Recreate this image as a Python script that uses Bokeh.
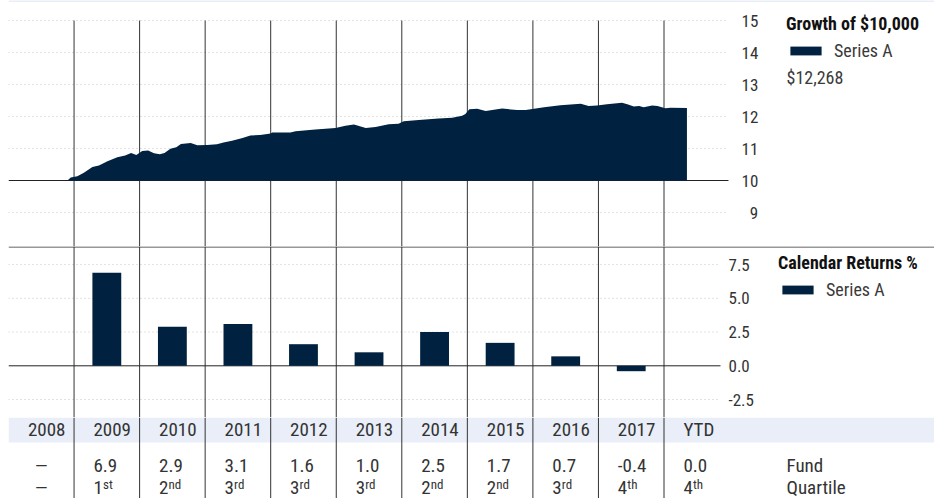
from bokeh.plotting import figure
from bokeh.layouts import column
from bokeh.models import (Range1d, LinearAxis, FixedTicker, Legend, LegendItem, Label,
                          Span, BoxAnnotation, NumeralTickFormatter)
from bokeh.core.properties import value
from bokeh.embed import file_html
from bokeh.resources import INLINE

# ---------------- data ----------------
years = ["2008", "2009", "2010", "2011", "2012", "2013", "2014", "2015", "2016", "2017", "YTD"]
fund_returns = [None, 6.9, 2.9, 3.1, 1.6, 1.0, 2.5, 1.7, 0.7, -0.4, 0.0]
quartiles = [None, 1, 2, 3, 3, 3, 2, 2, 3, 4, 4]

growth_dates = [2008.90, 2008.95, 2009.05, 2009.15, 2009.28, 2009.38, 2009.51, 2009.66, 2009.78,
                2009.87, 2009.95, 2010.04, 2010.13, 2010.22, 2010.31, 2010.38, 2010.47, 2010.56,
                2010.63, 2010.78, 2010.88, 2011.03, 2011.18, 2011.28, 2011.41, 2011.57, 2011.69,
                2011.84, 2012.00, 2012.02, 2012.30, 2012.38, 2012.68, 2012.99, 2013.14, 2013.27,
                2013.45, 2013.60, 2013.80, 2013.95, 2014.03, 2014.26, 2014.56, 2014.77, 2014.92,
                2014.97, 2015.03, 2015.15, 2015.28, 2015.53, 2015.76, 2015.89, 2016.17, 2016.42,
                2016.73, 2016.85, 2016.98, 2017.13, 2017.36, 2017.44, 2017.54, 2017.62, 2017.69,
                2017.82, 2017.90, 2018.02, 2018.10, 2018.35]
growth_values = [10.00, 10.09, 10.13, 10.24, 10.42, 10.47, 10.60, 10.73, 10.78,
                 10.86, 10.80, 10.92, 10.94, 10.85, 10.82, 10.86, 10.99, 11.04,
                 11.14, 11.17, 11.10, 11.11, 11.13, 11.19, 11.24, 11.33, 11.41,
                 11.42, 11.47, 11.50, 11.50, 11.54, 11.59, 11.64, 11.71, 11.75,
                 11.64, 11.67, 11.76, 11.77, 11.85, 11.89, 11.94, 11.96, 12.02,
                 12.08, 12.23, 12.24, 12.17, 12.25, 12.20, 12.20, 12.29, 12.35,
                 12.40, 12.33, 12.34, 12.38, 12.43, 12.38, 12.31, 12.33, 12.29,
                 12.34, 12.33, 12.26, 12.27, 12.268]

growth_ticks = [9, 10, 11, 12, 13, 14, 15]
return_ticks = [-2.5, 0.0, 2.5, 5.0, 7.5]
suffixes = {1: "st", 2: "nd", 3: "rd", 4: "th"}

# ---------------- layout / style ----------------
FONT = "Roboto Condensed"
NAVY = "#00213f"
TXT = "#333333"
W = 934
LEFT = 8
PXY = 65.55                      # pixels per year
X0 = 2008.0
X1 = X0 + (W - LEFT) / PXY
G_END = X0 + (728 - LEFT) / PXY
B_END = X0 + (720 - LEFT) / PXY

G_H, G_PX = 246, 32.0
G_TOP = 15 + 20 / G_PX
G_BOT = G_TOP - G_H / G_PX
B_H, B_PX = 171, 13.5
B_TOP = 119.3 / B_PX
B_BOT = B_TOP - B_H / B_PX
T_H = 81

boundaries = [X0 + i for i in range(1, len(years))]


def base_fig(h, yr):
    f = figure(width=W, height=h, x_range=Range1d(X0, X1), y_range=yr,
               x_axis_location=None, y_axis_location=None, toolbar_location=None,
               output_backend="svg", min_border_left=LEFT, min_border_right=0,
               min_border_top=0, min_border_bottom=0, outline_line_color=None,
               background_fill_color="white", border_fill_color="white")
    f.grid.visible = False
    return f


def right_axis(f, loc, ticks, standoff):
    ax = LinearAxis(fixed_location=loc, ticker=FixedTicker(ticks=ticks),
                    axis_line_color=None, major_tick_line_color=None,
                    minor_tick_line_color=None, major_tick_in=0, major_tick_out=0,
                    minor_tick_in=0, minor_tick_out=0,
                    major_label_standoff=standoff,
                    major_label_text_font=FONT, major_label_text_font_size="17px",
                    major_label_text_color=TXT)
    f.add_layout(ax, "right")
    return ax


def make_legend(f, renderer, title, loc):
    leg = Legend(items=[LegendItem(label="Series A", renderers=[renderer])], title=title,
                 location=loc, orientation="vertical", padding=0, margin=0, spacing=0,
                 border_line_color=None, background_fill_alpha=0,
                 glyph_width=39, glyph_height=11, label_standoff=9, title_standoff=6,
                 label_text_font=FONT, label_text_font_size="18px", label_text_color="#3a3a3a",
                 title_text_font=FONT, title_text_font_size="18px",
                 title_text_font_style="bold", title_text_color="#111111")
    f.add_layout(leg)


# ---------------- growth panel ----------------
g = base_fig(G_H, Range1d(G_BOT, G_TOP))
g.add_layout(Span(location=G_TOP - 0.5 / G_PX, dimension="width",
                  line_color="#e2e8f3", line_width=1.5))
dotted_g = [t for t in growth_ticks if t != growth_values[0]]
g.segment(x0=X0, x1=G_END, y0=dotted_g, y1=dotted_g, line_color="#c4c4c4",
          line_dash="1 3", line_width=1)
g.segment(x0=boundaries, x1=boundaries, y0=max(growth_ticks), y1=G_BOT,
          line_color="#333333", line_width=1)
g.segment(x0=X0, x1=G_END, y0=growth_values[0], y1=growth_values[0],
          line_color="#222222", line_width=1)
area = g.varea(x=growth_dates, y1=growth_values[0], y2=growth_values, fill_color=NAVY)
gax = right_axis(g, G_END, growth_ticks, 13)
gax.major_label_overrides = {9: "\u20079"}
make_legend(g, area, "Growth of $10,000", (778, 185))
g.add_layout(Label(x=778, y=169, x_units="screen", y_units="screen",
                   text=f"${growth_values[-1] * 1000:,.0f}", text_baseline="middle",
                   text_font=FONT, text_font_size="18px", text_color="#3a3a3a"))

# ---------------- returns panel ----------------
b = base_fig(B_H, Range1d(B_BOT, B_TOP))
b.add_layout(Span(location=B_TOP - 0.5 / B_PX, dimension="width",
                  line_color="#333333", line_width=1))
dotted_b = [t for t in return_ticks if t != 0]
b.segment(x0=X0, x1=B_END, y0=dotted_b, y1=dotted_b, line_color="#c4c4c4",
          line_dash="1 3", line_width=1)
b.segment(x0=boundaries, x1=boundaries, y0=B_BOT, y1=B_TOP,
          line_color="#333333", line_width=1)
b.segment(x0=X0, x1=B_END, y0=0, y1=0, line_color="#222222", line_width=1)
bar_x = [X0 + i + 0.5 for i, v in enumerate(fund_returns) if v is not None]
bar_top = [v for v in fund_returns if v is not None]
bars = b.vbar(x=bar_x, top=bar_top, bottom=0, width=0.44, fill_color=NAVY, line_color=None)
bax = right_axis(b, B_END, return_ticks, 8)
bax.formatter = NumeralTickFormatter(format="0.0")
make_legend(b, bars, "Calendar Returns %", (770, 117))

# ---------------- table panel ----------------
t = base_fig(T_H, Range1d(T_H, 0))
t.add_layout(BoxAnnotation(bottom=0, top=25, fill_color="#e9eef8", fill_alpha=1,
                           line_color=None, level="underlay"))
t.segment(x0=boundaries, x1=boundaries, y0=0, y1=T_H, line_color="#333333", line_width=1)

INSET = 19.4 / PXY
HDR_Y, FUND_Y, Q_Y = 11.5, 48.0, 70.3
col_left = [X0 + i + INSET for i in range(len(years))]

t.text(x=col_left, y=HDR_Y, text=years, text_font=value(FONT), text_font_size="19px",
       text_color=TXT, text_baseline="middle", text_align="left")

fx = [col_left[i] for i, v in enumerate(fund_returns) if v is not None]
ft = [f"{v:.1f}" for v in fund_returns if v is not None]
t.text(x=fx, y=FUND_Y, text=ft, text_font=value(FONT), text_font_size="19px",
       text_color=TXT, text_baseline="middle", text_align="left")

qx = [col_left[i] for i, q in enumerate(quartiles) if q is not None]
qd = [str(q) for q in quartiles if q is not None]
qs = [suffixes[q] for q in quartiles if q is not None]
t.text(x=qx, y=Q_Y, text=qd, text_font=value(FONT), text_font_size="19px",
       text_color=TXT, text_baseline="middle", text_align="left")
t.text(x=qx, y=Q_Y, text=qs, x_offset=9.5, y_offset=-3, text_font=value(FONT),
       text_font_size="13px", text_color=TXT, text_baseline="middle", text_align="left")

missing_f = [X0 + i + 0.5 for i, v in enumerate(fund_returns) if v is None]
missing_q = [X0 + i + 0.5 for i, q in enumerate(quartiles) if q is None]
t.text(x=missing_f, y=FUND_Y, text=["\u2014"] * len(missing_f), text_font=value(FONT),
       text_font_size="19px", text_color=TXT, text_baseline="middle", text_align="center")
t.text(x=missing_q, y=Q_Y, text=["\u2014"] * len(missing_q), text_font=value(FONT),
       text_font_size="19px", text_color=TXT, text_baseline="middle", text_align="center")

for lab, yy in (("Fund", FUND_Y), ("Quartile", Q_Y)):
    t.add_layout(Label(x=778, y=yy, x_units="screen", y_units="data", text=lab,
                       text_baseline="middle", text_font=FONT, text_font_size="19px",
                       text_color=TXT))

layout = column(g, b, t, spacing=0)
open("out.html", "w").write(file_html(layout, INLINE))
